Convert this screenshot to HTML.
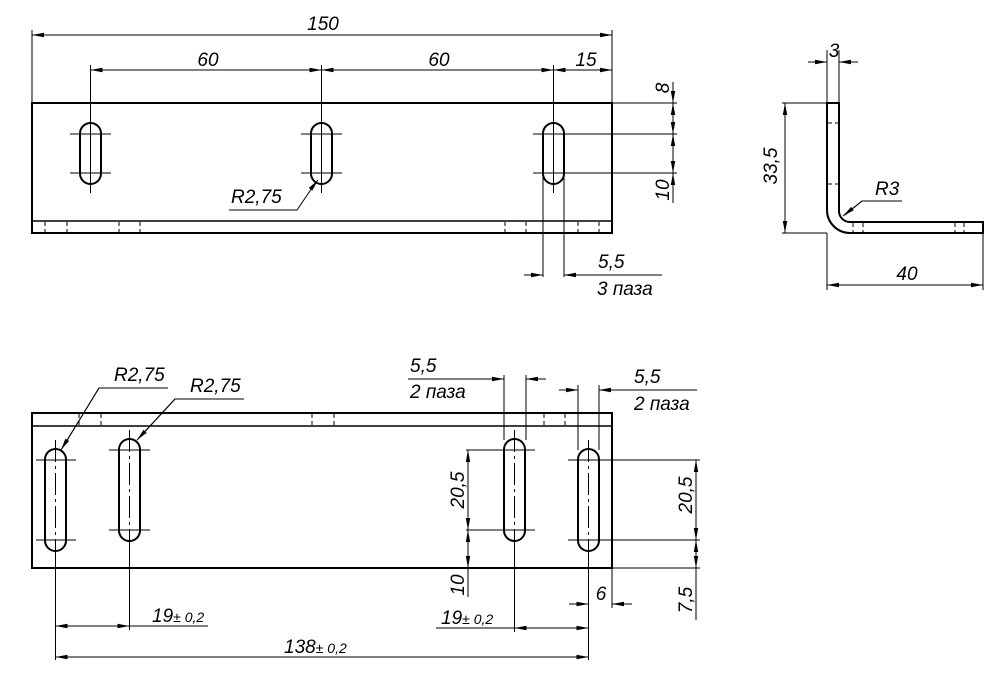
<!DOCTYPE html>
<html><head><meta charset="utf-8"><style>
html,body{margin:0;padding:0;background:#fff}
svg{display:block}
text{font-family:"Liberation Sans",sans-serif;font-style:italic;font-size:19px;fill:#000}
.s{font-size:14px}
</style></head><body>
<svg width="1000" height="688" viewBox="0 0 1000 688" xmlns="http://www.w3.org/2000/svg">
<defs>
<marker id="a" viewBox="0 0 12 6" refX="12" refY="3" markerWidth="12" markerHeight="6" markerUnits="userSpaceOnUse" orient="auto-start-reverse"><path d="M0,0.8 L12,3 L0,5.2 Z" fill="#000"/></marker>
</defs>
<g fill="none" stroke="#000">
<g stroke-width="2">
<rect x="32" y="103" width="580" height="130"/>
<line x1="32" y1="221" x2="612" y2="221" stroke-width="1.5"/>
<rect x="80" y="123" width="21" height="61" rx="10.5"/>
<rect x="311" y="123" width="21" height="61" rx="10.5"/>
<rect x="543" y="123" width="21" height="61" rx="10.5"/>
</g>
<g stroke-width="1">
<g stroke-dasharray="4,3">
<line x1="45" y1="222" x2="45" y2="233"/><line x1="67" y1="222" x2="67" y2="233"/>
<line x1="119" y1="222" x2="119" y2="233"/><line x1="140" y1="222" x2="140" y2="233"/>
<line x1="505" y1="222" x2="505" y2="233"/><line x1="526" y1="222" x2="526" y2="233"/>
<line x1="578" y1="222" x2="578" y2="233"/><line x1="599" y1="222" x2="599" y2="233"/>
</g>
<line x1="32" y1="30" x2="32" y2="103"/><line x1="612" y1="30" x2="612" y2="103"/>
<line x1="32" y1="35" x2="612" y2="35" marker-start="url(#a)" marker-end="url(#a)"/>
<line x1="90.5" y1="65" x2="90.5" y2="193"/><line x1="321.5" y1="65" x2="321.5" y2="193"/><line x1="553.5" y1="65" x2="553.5" y2="193"/>
<line x1="90.5" y1="70" x2="321.5" y2="70" marker-start="url(#a)" marker-end="url(#a)"/>
<line x1="321.5" y1="70" x2="553.5" y2="70" marker-start="url(#a)" marker-end="url(#a)"/>
<line x1="553.5" y1="70" x2="612" y2="70" marker-start="url(#a)" marker-end="url(#a)"/>
<line x1="70" y1="134" x2="111" y2="134"/><line x1="70" y1="173" x2="111" y2="173"/>
<line x1="301" y1="134" x2="342" y2="134"/><line x1="301" y1="173" x2="342" y2="173"/>
<line x1="533" y1="134" x2="677" y2="134"/><line x1="533" y1="173" x2="677" y2="173"/>
<line x1="612" y1="103" x2="677" y2="103"/>
<line x1="673" y1="82" x2="673" y2="103" marker-end="url(#a)"/>
<line x1="673" y1="103" x2="673" y2="134" marker-start="url(#a)" marker-end="url(#a)"/>
<line x1="673" y1="173" x2="673" y2="203" marker-start="url(#a)"/>
<line x1="673" y1="134" x2="673" y2="173" marker-start="url(#a)" marker-end="url(#a)"/>
<polyline points="229,210 297,210 314,185"/>
<line x1="314" y1="185" x2="318" y2="180" marker-end="url(#a)"/>
<line x1="543" y1="175" x2="543" y2="277"/><line x1="564" y1="175" x2="564" y2="277"/>
<line x1="524" y1="275" x2="543" y2="275" marker-end="url(#a)"/>
<line x1="662" y1="275" x2="564" y2="275" marker-end="url(#a)"/>
</g>
<g stroke-width="2">
<path d="M827,103 H839 V211 A11,11 0 0 0 850,222 H983 V233 H850 A23,23 0 0 1 827,210 Z"/>
</g>
<g stroke-width="1">
<g stroke-dasharray="4,3">
<line x1="828" y1="123" x2="838" y2="123"/><line x1="828" y1="184" x2="838" y2="184"/>
<line x1="853" y1="223" x2="853" y2="232"/><line x1="863" y1="223" x2="863" y2="232"/>
<line x1="955" y1="223" x2="955" y2="232"/><line x1="964" y1="223" x2="964" y2="232"/>
</g>
<line x1="827" y1="50" x2="827" y2="103"/><line x1="839" y1="50" x2="839" y2="103"/>
<line x1="808" y1="62" x2="827" y2="62" marker-end="url(#a)"/>
<line x1="858" y1="62" x2="839" y2="62" marker-end="url(#a)"/>
<line x1="782" y1="103" x2="827" y2="103"/><line x1="782" y1="233" x2="827" y2="233"/>
<line x1="785" y1="103" x2="785" y2="233" marker-start="url(#a)" marker-end="url(#a)"/>
<line x1="827" y1="233" x2="827" y2="290"/><line x1="983" y1="233" x2="983" y2="290"/>
<line x1="827" y1="285" x2="983" y2="285" marker-start="url(#a)" marker-end="url(#a)"/>
<polyline points="902,201 862,201 845,215"/>
<line x1="862" y1="201" x2="843" y2="216" marker-end="url(#a)"/>
</g>
<g stroke-width="2">
<rect x="32" y="413" width="580" height="155"/>
<line x1="32" y1="426" x2="612" y2="426" stroke-width="1.5"/>
<rect x="45" y="449" width="21" height="102" rx="10.5"/>
<rect x="119" y="439" width="21" height="102" rx="10.5"/>
<rect x="504" y="439" width="21" height="102" rx="10.5"/>
<rect x="578" y="449" width="21" height="102" rx="10.5"/>
</g>
<g stroke-width="1">
<g stroke-dasharray="4,3">
<line x1="79" y1="414" x2="79" y2="425"/><line x1="101" y1="414" x2="101" y2="425"/>
<line x1="312" y1="414" x2="312" y2="425"/><line x1="334" y1="414" x2="334" y2="425"/>
<line x1="544" y1="414" x2="544" y2="425"/><line x1="565" y1="414" x2="565" y2="425"/>
</g>
<g stroke-dasharray="22,4,3,4">
<line x1="55.5" y1="440" x2="55.5" y2="560"/><line x1="129.5" y1="430" x2="129.5" y2="550"/>
<line x1="514.5" y1="430" x2="514.5" y2="550"/><line x1="588.5" y1="440" x2="588.5" y2="560"/>
</g>
<line x1="55.5" y1="555" x2="55.5" y2="660"/><line x1="129.5" y1="545" x2="129.5" y2="630"/>
<line x1="514.5" y1="545" x2="514.5" y2="632"/><line x1="588.5" y1="555" x2="588.5" y2="660"/>
<line x1="36" y1="460" x2="76" y2="460"/><line x1="36" y1="540" x2="76" y2="540"/>
<line x1="109" y1="450" x2="150" y2="450"/><line x1="109" y1="530" x2="150" y2="530"/>
<line x1="466" y1="450" x2="535" y2="450"/><line x1="466" y1="530" x2="535" y2="530"/>
<line x1="568" y1="460" x2="700" y2="460"/><line x1="568" y1="540" x2="700" y2="540"/>
<line x1="612" y1="568" x2="700" y2="568"/>
<line x1="55.5" y1="626" x2="129.5" y2="626" marker-start="url(#a)" marker-end="url(#a)"/>
<line x1="129.5" y1="626" x2="208" y2="626"/>
<line x1="436" y1="628" x2="514.5" y2="628"/>
<line x1="514.5" y1="628" x2="588.5" y2="628" marker-start="url(#a)" marker-end="url(#a)"/>
<line x1="55.5" y1="657" x2="588.5" y2="657" marker-start="url(#a)" marker-end="url(#a)"/>
<line x1="504" y1="375" x2="504" y2="440"/><line x1="526" y1="375" x2="526" y2="440"/>
<line x1="408" y1="379" x2="504" y2="379" marker-end="url(#a)"/>
<line x1="546" y1="379" x2="526" y2="379" marker-end="url(#a)"/>
<line x1="578" y1="385" x2="578" y2="450"/><line x1="599" y1="385" x2="599" y2="450"/>
<line x1="559" y1="390" x2="578" y2="390" marker-end="url(#a)"/>
<line x1="697" y1="390" x2="599" y2="390" marker-end="url(#a)"/>
<line x1="468" y1="450" x2="468" y2="530" marker-start="url(#a)" marker-end="url(#a)"/>
<line x1="468" y1="530" x2="468" y2="568" marker-start="url(#a)" marker-end="url(#a)"/>
<line x1="468" y1="568" x2="468" y2="597"/>
<line x1="696" y1="460" x2="696" y2="540" marker-start="url(#a)" marker-end="url(#a)"/>
<line x1="696" y1="540" x2="696" y2="568" marker-start="url(#a)" marker-end="url(#a)"/>
<line x1="696" y1="568" x2="696" y2="620"/>
<line x1="612" y1="568" x2="612" y2="608"/>
<line x1="569" y1="604" x2="588.5" y2="604" marker-end="url(#a)"/>
<line x1="632" y1="604" x2="612" y2="604" marker-end="url(#a)"/>
<polyline points="168,388 99,388 63,447"/>
<line x1="99" y1="388" x2="61" y2="450" marker-end="url(#a)"/>
<polyline points="244,399 175,399 139,438"/>
<line x1="175" y1="399" x2="137" y2="440" marker-end="url(#a)"/>
</g>
</g>
<text x="323" y="30" text-anchor="middle">150</text>
<text x="208" y="66" text-anchor="middle">60</text>
<text x="439" y="66" text-anchor="middle">60</text>
<text x="586" y="66" text-anchor="middle">15</text>
<text transform="translate(669,88) rotate(-90)" text-anchor="middle">8</text>
<text transform="translate(669,190) rotate(-90)" text-anchor="middle">10</text>
<text x="231" y="203">R2,75</text>
<text x="598" y="268">5,5</text>
<text x="597" y="295">3 паза</text>
<text x="834" y="57" text-anchor="middle">3</text>
<text transform="translate(777,166) rotate(-90)" text-anchor="middle">33,5</text>
<text x="875" y="195">R3</text>
<text x="907" y="280" text-anchor="middle">40</text>
<text x="114" y="381">R2,75</text>
<text x="190" y="392">R2,75</text>
<text x="410" y="372">5,5</text>
<text x="410" y="398">2 паза</text>
<text x="634" y="383">5,5</text>
<text x="634" y="410">2 паза</text>
<text transform="translate(464,490) rotate(-90)" text-anchor="middle">20,5</text>
<text transform="translate(464,585) rotate(-90)" text-anchor="middle">10</text>
<text transform="translate(692,495) rotate(-90)" text-anchor="middle">20,5</text>
<text transform="translate(692,600) rotate(-90)" text-anchor="middle">7,5</text>
<text x="601" y="600" text-anchor="middle">6</text>
<text x="152" y="622">19<tspan class="s">± 0,2</tspan></text>
<text x="441" y="624">19<tspan class="s">± 0,2</tspan></text>
<text x="284" y="653">138<tspan class="s">± 0,2</tspan></text>
</svg>
</body></html>
